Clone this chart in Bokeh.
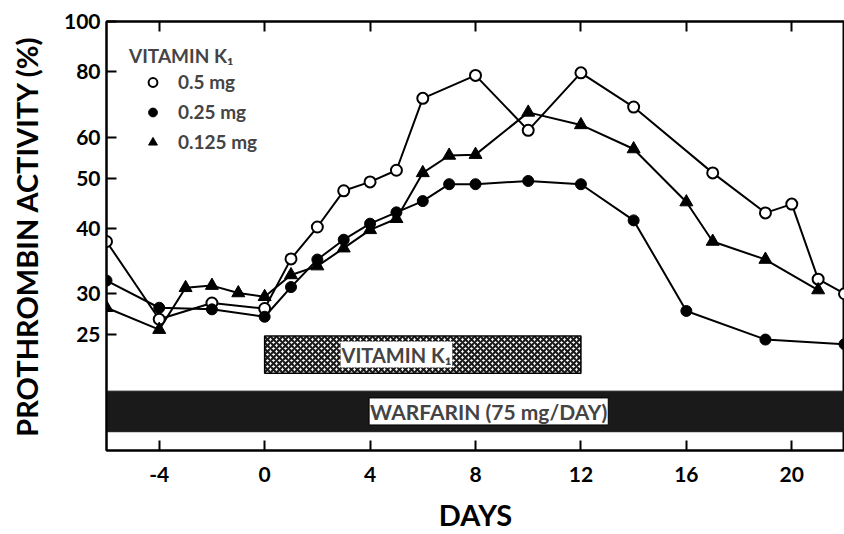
from bokeh.plotting import figure
from bokeh.models import (Range1d, FixedTicker, LinearAxis, NumeralTickFormatter,
                          Legend, LegendItem, Label)
from bokeh.embed import file_html
from bokeh.resources import INLINE

# ---- data ----
days_05 = [-6, -4, -2, 0, 1, 2, 3, 4, 5, 6, 8, 10, 12, 14, 17, 19, 20, 21, 22]
act_05 = [37.8, 26.8, 28.8, 28.1, 35.0, 40.3, 47.3, 49.2, 51.8, 71.2, 78.8, 61.8,
          79.7, 68.5, 51.2, 42.9, 44.6, 32.0, 30.0]

days_025 = [-6, -4, -2, 0, 1, 2, 3, 4, 5, 6, 7, 8, 10, 12, 14, 16, 19, 22]
act_025 = [31.8, 28.2, 28.0, 27.1, 30.9, 34.9, 38.1, 40.9, 43.0, 45.2, 48.7, 48.7,
           49.4, 48.7, 41.5, 27.8, 24.5, 24.0]

days_0125 = [-6, -4, -3, -2, -1, 0, 1, 2, 3, 4, 5, 6, 7, 8, 10, 12, 14, 16, 17, 19, 21]
act_0125 = [28.2, 25.6, 30.8, 31.1, 30.1, 29.6, 32.6, 33.9, 36.7, 39.8, 41.8, 51.2,
            55.3, 55.5, 66.9, 63.3, 56.9, 45.0, 37.8, 34.9, 30.5]

vitk_days = [0, 12]
vitk_band = [21.1, 24.9]
warf_days = [-6, 22]
warf_band = [16.3, 19.5]

x_ticks = [-4, 0, 4, 8, 12, 16, 20]
y_ticks = [25, 30, 40, 50, 60, 80, 100]

FONT = "Lato"

p = figure(width=844, height=534, y_axis_type="log",
           x_range=Range1d(-6, 22), y_range=Range1d(15, 100),
           output_backend="svg", toolbar_location=None,
           min_border_left=106, min_border_right=0, min_border_top=21,
           min_border_bottom=76)
p.xgrid.grid_line_color = None
p.ygrid.grid_line_color = None
p.outline_line_color = "black"
p.outline_line_width = 2
p.background_fill_color = "white"
p.border_fill_color = "white"

# treatment bars
p.quad(left=[warf_days[0]], right=[warf_days[1]], bottom=[warf_band[0]], top=[warf_band[1]],
       fill_color="#1a1a1a", line_color="#1a1a1a")
p.quad(left=[vitk_days[0]], right=[vitk_days[1]], bottom=[vitk_band[0]], top=[vitk_band[1]],
       fill_color="white", line_color="black", line_width=1.5,
       hatch_pattern="diagonal_cross", hatch_color="#1a1a1a", hatch_weight=2.2, hatch_scale=6)

lab_k = Label(x=5.0, y=(vitk_band[0] * vitk_band[1]) ** 0.5,
              text="VITAMIN K₁", text_align="center", text_baseline="middle",
              text_font=FONT, text_font_style="bold", text_font_size="20px",
              background_fill_color="white", padding=1)
p.add_layout(lab_k)
lab_w = Label(x=8.5, y=(warf_band[0] * warf_band[1]) ** 0.5,
              text="WARFARIN (75 mg/DAY)", text_align="center", text_baseline="middle",
              text_font=FONT, text_font_style="bold", text_font_size="21px",
              background_fill_color="white", border_line_color="black", padding=1)
p.add_layout(lab_w)

# series
p.line(days_05, act_05, line_color="black", line_width=2)
p.line(days_025, act_025, line_color="black", line_width=2)
p.line(days_0125, act_0125, line_color="black", line_width=2)
r05 = p.scatter(days_05, act_05, marker="circle", size=11, fill_color="white",
                line_color="black", line_width=2)
r025 = p.scatter(days_025, act_025, marker="circle", size=11, fill_color="black",
                 line_color="black")
r0125 = p.scatter(days_0125, act_0125, marker="triangle", size=13, fill_color="black",
                  line_color="black")

legend = Legend(items=[LegendItem(label="0.5 mg", renderers=[r05]),
                       LegendItem(label="0.25 mg", renderers=[r025]),
                       LegendItem(label="0.125 mg", renderers=[r0125])],
                location="top_left", title="VITAMIN K₁",
                title_text_font=FONT, title_text_font_style="bold", title_text_font_size="19px",
                title_standoff=3,
                label_text_font=FONT, label_text_font_style="bold", label_text_font_size="19px",
                glyph_width=47, glyph_height=22, label_height=22, spacing=7,
                label_standoff=2, padding=0, margin=23,
                background_fill_alpha=0, border_line_color=None)
p.add_layout(legend)

# axes
p.yaxis.ticker = FixedTicker(ticks=y_ticks)
p.yaxis.formatter = NumeralTickFormatter(format="0")
p.xaxis.ticker = FixedTicker(ticks=x_ticks)
p.xaxis.major_label_overrides = {-4: "-4"}
for ax in (p.xaxis[0], p.yaxis[0]):
    ax.major_tick_in = 10
    ax.major_tick_out = 0
    ax.minor_tick_line_color = None
    ax.axis_line_width = 2
    ax.major_tick_line_width = 2
    ax.major_label_text_font = FONT
    ax.major_label_text_font_style = "bold"
    ax.major_label_text_font_size = "21px"
    ax.major_label_text_color = "black"
    ax.axis_label_text_font = FONT
    ax.axis_label_text_font_style = "bold"
    ax.axis_label_text_font_size = "29px"
    ax.axis_label_text_color = "black"
p.yaxis.axis_label = "PROTHROMBIN ACTIVITY (%)"
p.xaxis.axis_label = "DAYS"
p.yaxis.major_label_standoff = 6
p.xaxis.major_label_standoff = 16
p.yaxis.axis_label_standoff = 17
p.xaxis.axis_label_standoff = 12

top = LinearAxis(ticker=FixedTicker(ticks=x_ticks),
                 major_label_overrides={t: "" for t in x_ticks},
                 major_tick_in=10, major_tick_out=0, minor_tick_line_color=None,
                 axis_line_width=2, major_tick_line_width=2, major_label_standoff=0)
p.add_layout(top, "above")

open("out.html", "w").write(file_html(p, INLINE))
